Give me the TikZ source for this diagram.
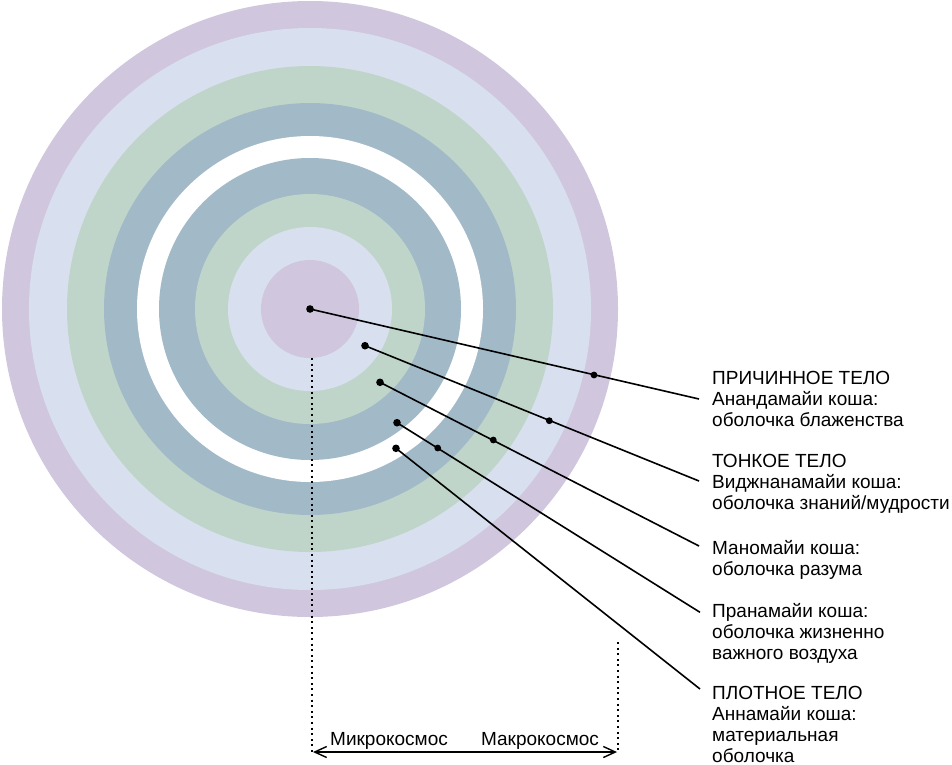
\documentclass[tikz,border=0pt]{standalone}
\usepackage{fontspec}
\setmainfont{Liberation Sans}
\usetikzlibrary{arrows.meta}
\definecolor{kpurple}{HTML}{D0C6DE}
\definecolor{kblue}{HTML}{D8E0EF}
\definecolor{kgreen}{HTML}{C0D5C9}
\definecolor{kgrey}{HTML}{A2BAC8}
\begin{document}
\begin{tikzpicture}[>={Straight Barb[length=12pt,width=11pt]},x=1pt,y=-1pt,
	lab/.style={anchor=north west,align=left,inner sep=0pt,font=\fontsize{19}{21}\selectfont},
	leader/.style={line width=1.6pt},
	guide/.style={line width=2pt,dash pattern=on 2pt off 3.6pt}]
	\useasboundingbox (0,0) rectangle (952,764);
	\coordinate (O) at (310,309);
	% rings, outside in
	\foreach \r/\c in {308/kpurple,281/kblue,243/kgreen,206/kgrey,173/white,151/kgrey,115/kgreen,82/kblue,49/kpurple}
		\fill[\c] (O) circle(\r pt);
	% dots and leader ends
	\coordinate (s2) at (365,345.7);
	\coordinate (s3) at (380,382.3);
	\coordinate (s4) at (397,422.7);
	\coordinate (s5) at (396,448.3);
	\coordinate (p1) at (594,375);
	\coordinate (p2) at (549.3,420.7);
	\coordinate (p3) at (493.3,440);
	\coordinate (p4) at (437.7,448);
	\coordinate (e1) at (699,399);
	\coordinate (e2) at (699,481);
	\coordinate (e3) at (699,546);
	\coordinate (e4) at (700,612.3);
	\coordinate (e5) at (700,689);
	\draw[leader] (O) -- (e1);
	\draw[leader] (s2) -- (e2);
	\draw[leader] (s3) -- (e3);
	\draw[leader] (s4) -- (e4);
	\draw[leader] (s5) -- (e5);
	\foreach \p in {O,s2,s3,s4,s5}
		\fill (\p) circle(3.8pt);
	\foreach \p in {p1,p2,p3,p4}
		\fill (\p) circle(3.4pt);
	% labels (top of first line = baseline - cap height)
	\node[lab] (causal) at (712,371.4) {ПРИЧИННОЕ ТЕЛО\\Анандамайи коша:\\оболочка блаженства};
	\node[lab] (subtle) at (712,454.4) {ТОНКОЕ ТЕЛО\\Виджнанамайи коша:\\оболочка знаний/мудрости};
	\node[lab] (mano) at (712,540) {Маномайи коша:\\оболочка разума};
	\node[lab] (prana) at (712,603) {Пранамайи коша:\\оболочка жизненно\\важного воздуха};
	\node[lab] (gross) at (712,686.4) {ПЛОТНОЕ ТЕЛО\\Аннамайи коша:\\материальная\\оболочка};
	% micro / macro
	\coordinate (g1) at (311.5,358);
	\coordinate (g2) at (311.5,752);
	\coordinate (g3) at (618,642);
	\coordinate (g4) at (618,752);
	\draw[guide] (g1) -- (g2);
	\draw[guide] (g3) -- (g4);
	\coordinate (a1) at (313,752);
	\coordinate (a2) at (617,752);
	\draw[<->,line width=1.4pt] (a1) -- (a2);
	\node[lab,anchor=base] (micro) at (389,745.5) {Микрокосмос};
	\node[lab,anchor=base] (macro) at (540,745.5) {Макрокосмос};
\end{tikzpicture}
\end{document}
